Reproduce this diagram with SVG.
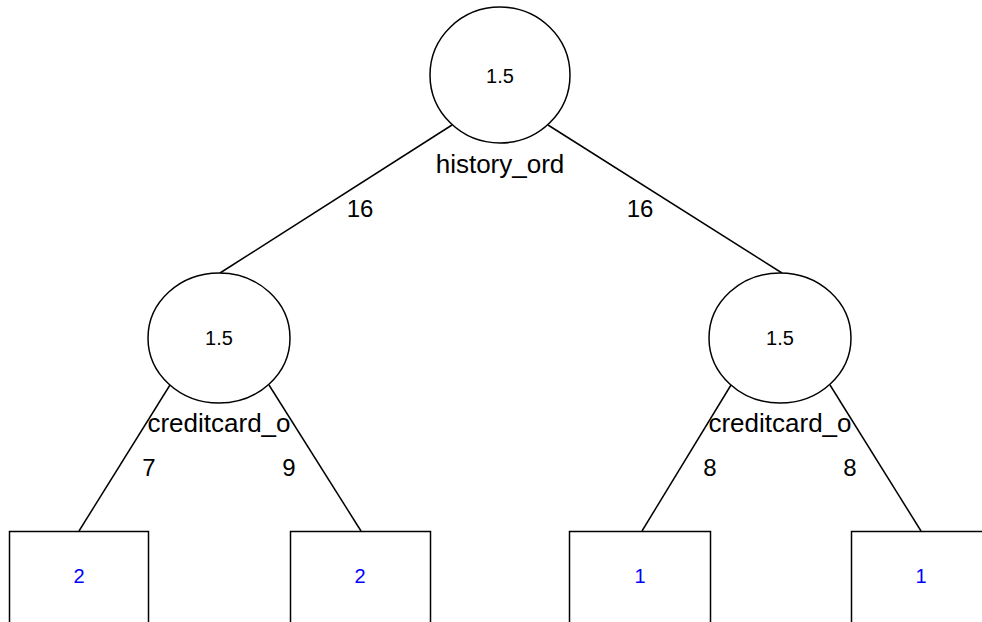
<svg xmlns="http://www.w3.org/2000/svg" width="982" height="622" viewBox="0 0 982 622">
<style>
.n{fill:#fff;stroke:#000;stroke-width:1.5}
.e{stroke:#000;stroke-width:1.5;fill:none}
text{font-family:"Liberation Sans",Arial,sans-serif;text-anchor:middle}
.v{font-size:20px;fill:#000}
.lab{font-size:26px;fill:#000}
.el{font-size:24px;fill:#000}
.lf{font-size:20px;fill:#0000ff}
</style>
<rect width="982" height="622" fill="#fff"/>
<g id="edges">
<line class="e" x1="452" y1="125" x2="220" y2="273"/>
<line class="e" x1="548" y1="125" x2="782" y2="273"/>
<line class="e" x1="170" y1="385" x2="79" y2="531"/>
<line class="e" x1="269" y1="385" x2="361" y2="531"/>
<line class="e" x1="731" y1="385" x2="642" y2="531"/>
<line class="e" x1="830" y1="385" x2="921" y2="531"/>
<text class="el" x="360" y="217">16</text>
<text class="el" x="640" y="217">16</text>
<text class="el" x="149" y="476">7</text>
<text class="el" x="289" y="476">9</text>
<text class="el" x="710" y="476">8</text>
<text class="el" x="850" y="476">8</text>
</g>
<g id="root">
<ellipse class="n" cx="500" cy="75" rx="70" ry="68"/>
<text class="v" x="500" y="83">1.5</text>
<text class="lab" x="500" y="173">history_ord</text>
</g>
<g id="left">
<ellipse class="n" cx="219" cy="338" rx="71" ry="65"/>
<text class="v" x="219" y="345">1.5</text>
<text class="lab" x="219" y="432">creditcard_o</text>
</g>
<g id="right">
<ellipse class="n" cx="780" cy="338" rx="71" ry="65"/>
<text class="v" x="780" y="345">1.5</text>
<text class="lab" x="780" y="432">creditcard_o</text>
</g>
<g id="leaf1">
<rect class="n" x="9.5" y="531.5" width="139" height="140"/>
<text class="lf" x="79" y="583">2</text>
</g>
<g id="leaf2">
<rect class="n" x="290.5" y="531.5" width="140" height="140"/>
<text class="lf" x="360" y="583">2</text>
</g>
<g id="leaf3">
<rect class="n" x="569.5" y="531.5" width="141" height="140"/>
<text class="lf" x="640" y="583">1</text>
</g>
<g id="leaf4">
<rect class="n" x="851.5" y="531.5" width="140" height="140"/>
<text class="lf" x="921" y="583">1</text>
</g>
</svg>
